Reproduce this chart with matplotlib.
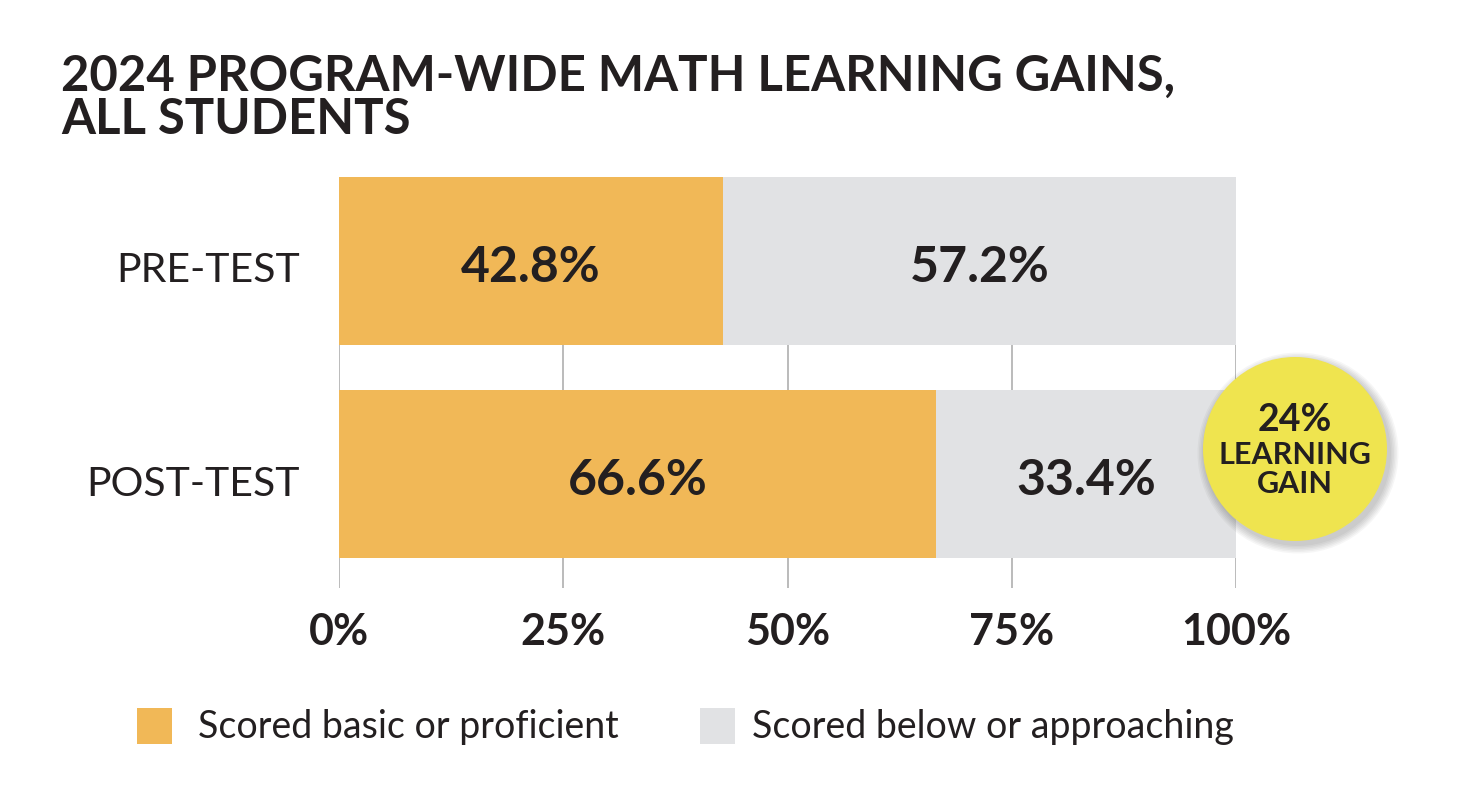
import matplotlib
matplotlib.use("Agg")
import matplotlib.pyplot as plt
import matplotlib.transforms as mtransforms
from matplotlib.patches import Circle, Rectangle

categories = ["PRE-TEST", "POST-TEST"]
basic_or_proficient = [42.8, 66.6]
below_or_approaching = [57.2, 33.4]
tick_values = [0, 25, 50, 75, 100]
tick_labels = ["0%", "25%", "50%", "75%", "100%"]
legend_labels = ["Scored basic or proficient", "Scored below or approaching"]
gain_text = ["24%", "LEARNING", "GAIN"]

ORANGE = "#F1B857"
GRAY = "#E1E2E4"
YELLOW = "#EFE44F"
TXT = "#231F20"
FONT = "Lato"

W, H = 1462, 808
fig = plt.figure(figsize=(W / 100, H / 100), dpi=100)
fig.patch.set_facecolor("white")

def fx(px):
    return px / W

def fy(py):
    return 1 - py / H

ax = fig.add_axes([fx(339), fy(588), fx(1236) - fx(339), fy(177) - fy(588)])
ax.set_xlim(0, 100)
ax.set_ylim(1.535, -0.394)
ypos = list(range(len(categories)))
bh = 168 / 213

for x in tick_values:
    ax.axvline(x, color="#B5B5B5", lw=1.3, zorder=0)

ax.barh(ypos, basic_or_proficient, height=bh, color=ORANGE, zorder=2)
ax.barh(ypos, below_or_approaching, left=basic_or_proficient, height=bh, color=GRAY, zorder=2)

for y, a, b in zip(ypos, basic_or_proficient, below_or_approaching):
    ax.text(a / 2, y + 0.03, f"{a:.1f}%", ha="center", va="center", fontsize=36,
            fontweight="bold", family=FONT, color=TXT, zorder=3)
    ax.text(a + b / 2, y + 0.03, f"{b:.1f}%", ha="center", va="center", fontsize=36,
            fontweight="bold", family=FONT, color=TXT, zorder=3)

# category labels (slightly below bar centre, as in the reference)
ax.set_yticks([])
blend = mtransforms.blended_transform_factory(ax.transAxes, ax.transData)
offset = mtransforms.ScaledTranslation(0, -10 / 100, fig.dpi_scale_trans)
for y, cat in zip(ypos, categories):
    ax.text(-(339 - 300) / 897, y, cat, ha="right", va="center", fontsize=29.5,
            family=FONT, color=TXT, transform=blend + offset)

ax.set_xticks(tick_values)
ax.set_xticklabels(tick_labels, fontsize=31, fontweight="bold", family=FONT, color=TXT)
ax.tick_params(axis="both", length=0)
ax.tick_params(axis="x", pad=17)
for s in ax.spines.values():
    s.set_visible(False)

# title
fig.text(fx(61), fy(91), "2024 PROGRAM-WIDE MATH LEARNING GAINS,", fontsize=35.3,
         fontweight="bold", family=FONT, color=TXT, va="baseline")
fig.text(fx(61), fy(134), "ALL STUDENTS", fontsize=35.3,
         fontweight="bold", family=FONT, color=TXT, va="baseline")

# badge
cx, cy, r = 1295, 449, 92
bax = fig.add_axes([fx(cx - 110), fy(cy + 110), fx(220), fy(0) - fy(220)])
bax.set_xlim(-110, 110)
bax.set_ylim(-110, 110)
bax.set_aspect("equal")
bax.axis("off")
for i in range(6):
    bax.add_patch(Circle((3, -4), r + 1 + i * 1.5, color="black", alpha=0.035, lw=0))
bax.add_patch(Circle((0, 0), r, color=YELLOW, lw=0))
bax.text(0, 29, gain_text[0], ha="center", va="center", fontsize=27,
         fontweight="bold", family=FONT, color=TXT)
bax.text(0, -6, gain_text[1], ha="center", va="center", fontsize=22,
         fontweight="bold", family=FONT, color=TXT)
bax.text(0, -35, gain_text[2], ha="center", va="center", fontsize=22,
         fontweight="bold", family=FONT, color=TXT)

# legend
for (x0, col, lab, tx) in [(137, ORANGE, legend_labels[0], 198), (700, GRAY, legend_labels[1], 752)]:
    fig.patches.append(Rectangle((fx(x0), fy(744)), fx(35), fy(708) - fy(744),
                                 transform=fig.transFigure, color=col, lw=0))
    fig.text(fx(tx), fy(727), lab, fontsize=27, family=FONT, color=TXT, va="center")

fig.savefig("out.png", dpi=100, facecolor="white")
